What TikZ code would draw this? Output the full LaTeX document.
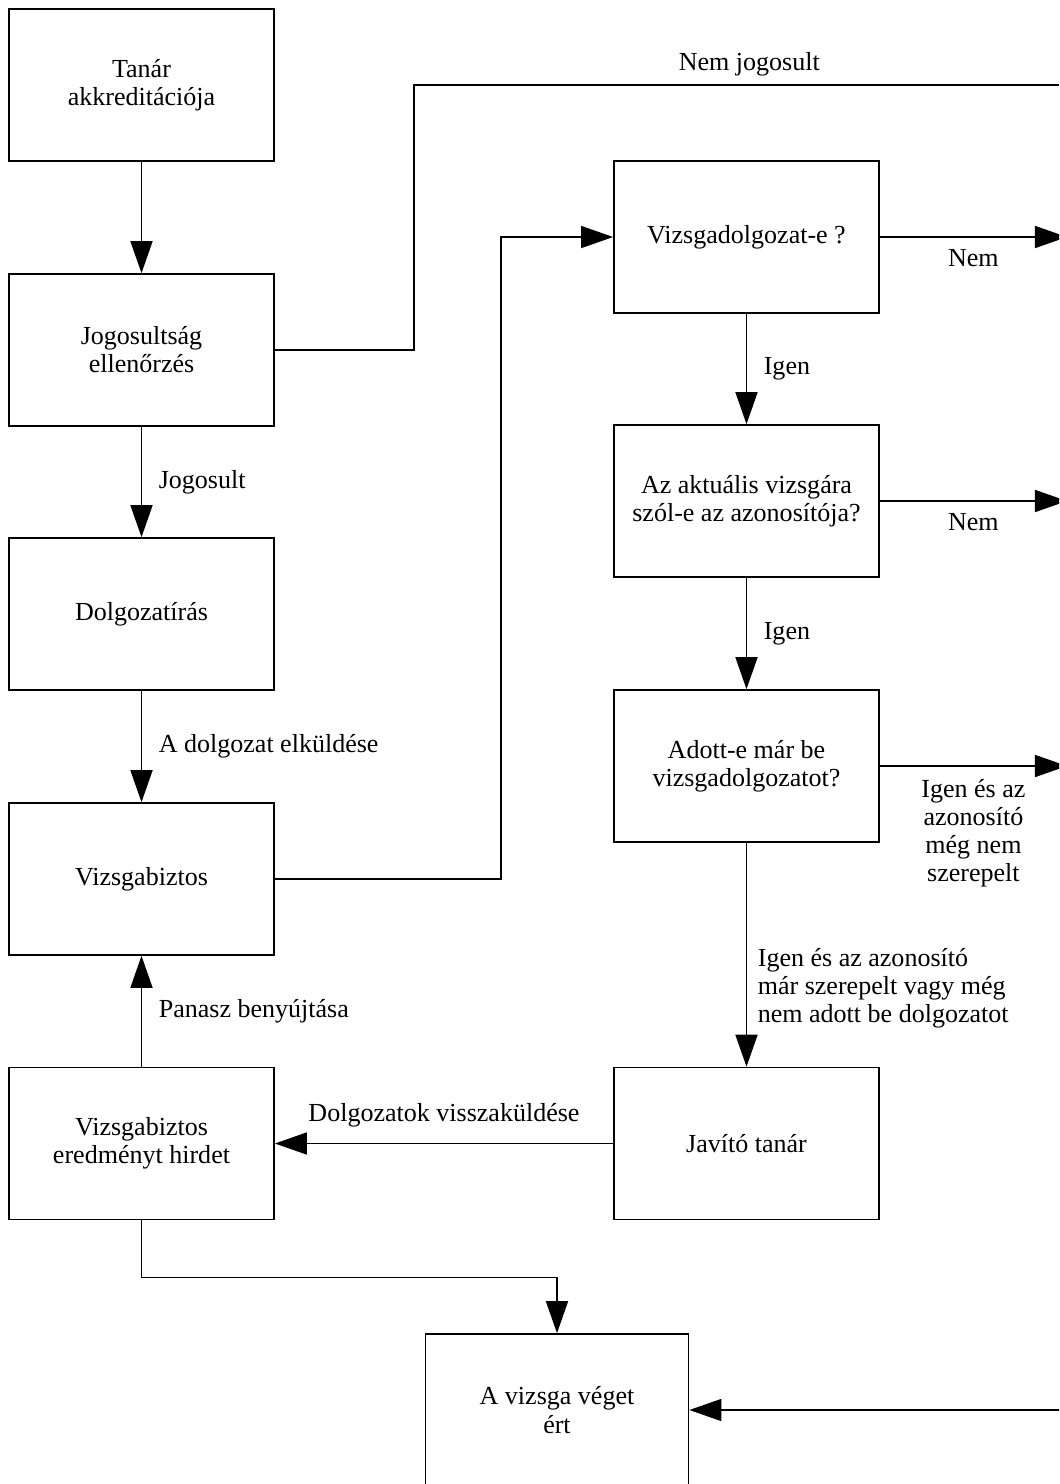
\documentclass[tikz,border=0pt]{standalone}
\usepackage{fontspec}
\setmainfont{Liberation Serif}
\usetikzlibrary{arrows.meta}

\begin{document}
\begin{tikzpicture}[x=0.01cm, y=-0.01cm, font=\fontsize{7.4pt}{8pt}\selectfont,
	box/.style={draw, line width=0.45pt, minimum width=2.65cm, minimum height=1.52cm, align=center, inner sep=0pt},
	arr/.style={line width=0.45pt, -{Triangle[length=0.32cm, width=0.22cm]}},
	lbl/.style={inner sep=0pt, align=center}]
	\useasboundingbox (0,0) rectangle (1059,1484);
	\clip (0,0) rectangle (1059,1484);

	% left column
	\node[box] (tanar) at (141.5,85) {Tanár\\akkreditációja};
	\node[box] (jog) at (141.5,350) {Jogosultság\\ellenőrzés};
	\node[box] (dolg) at (141.5,614) {Dolgozatírás};
	\node[box] (vb) at (141.5,879) {Vizsgabiztos};
	\node[box] (vbe) at (141.5,1143.5) {Vizsgabiztos\\eredményt hirdet};
	% right column
	\node[box] (vizsgae) at (746.5,237) {Vizsgadolgozat-e ?};
	\node[box] (aktualis) at (746.5,501) {Az aktuális vizsgára\\szól-e az azonosítója?};
	\node[box] (adott) at (746.5,766) {Adott-e már be\\vizsgadolgozatot?};
	\node[box] (javito) at (746.5,1143.5) {Javító tanár};
	\node[box, minimum width=2.63cm] (vege) at (557,1410) {A vizsga véget\\ért};

	\coordinate (kinemjog) at (1059,85);
	\coordinate (ki1) at ([xshift=1.87cm]vizsgae.east);
	\coordinate (ki2) at ([xshift=1.87cm]aktualis.east);
	\coordinate (ki3) at ([xshift=1.87cm]adott.east);
	\coordinate (be) at ([xshift=3.71cm]vege.east);

	\draw[arr] (tanar) -- (jog);
	\foreach \a/\b/\t in {jog/dolg/Jogosult, dolg/vb/A dolgozat elküldése, vbe/vb/Panasz benyújtása,
	    vizsgae/aktualis/Igen, aktualis/adott/Igen}
		\draw[arr] (\a) -- node[lbl, right=4.7pt]{\t} (\b);
	\draw[arr] (adott) -- node[lbl, right=3pt, pos=0.65, align=left]{Igen és az azonosító\\ már szerepelt vagy még\\nem adott be dolgozatot} (javito);

	\draw[line width=0.45pt] (jog.east) -- ++(139,0) |- node[lbl, above=2.3pt, pos=0.76]{Nem jogosult} (kinemjog);
	\draw[arr] (vb.east) -- ++(226,0) |- (vizsgae.west);
	\draw[arr] (vizsgae) -- node[lbl, below=3.4pt]{Nem} (ki1);
	\draw[arr] (aktualis) -- node[lbl, below=3.4pt]{Nem} (ki2);
	\draw[arr] (adott) -- node[lbl, below=3.5pt]{Igen és az\\azonosító\\még nem\\szerepelt} (ki3);
	\draw[arr] (javito) -- node[lbl, above=4.5pt]{Dolgozatok visszaküldése} (vbe);
	\draw[arr] (vbe.south) -- ++(0,57) -| (vege.north);
	\draw[arr] (be) -- (vege);

\end{tikzpicture}
\end{document}
